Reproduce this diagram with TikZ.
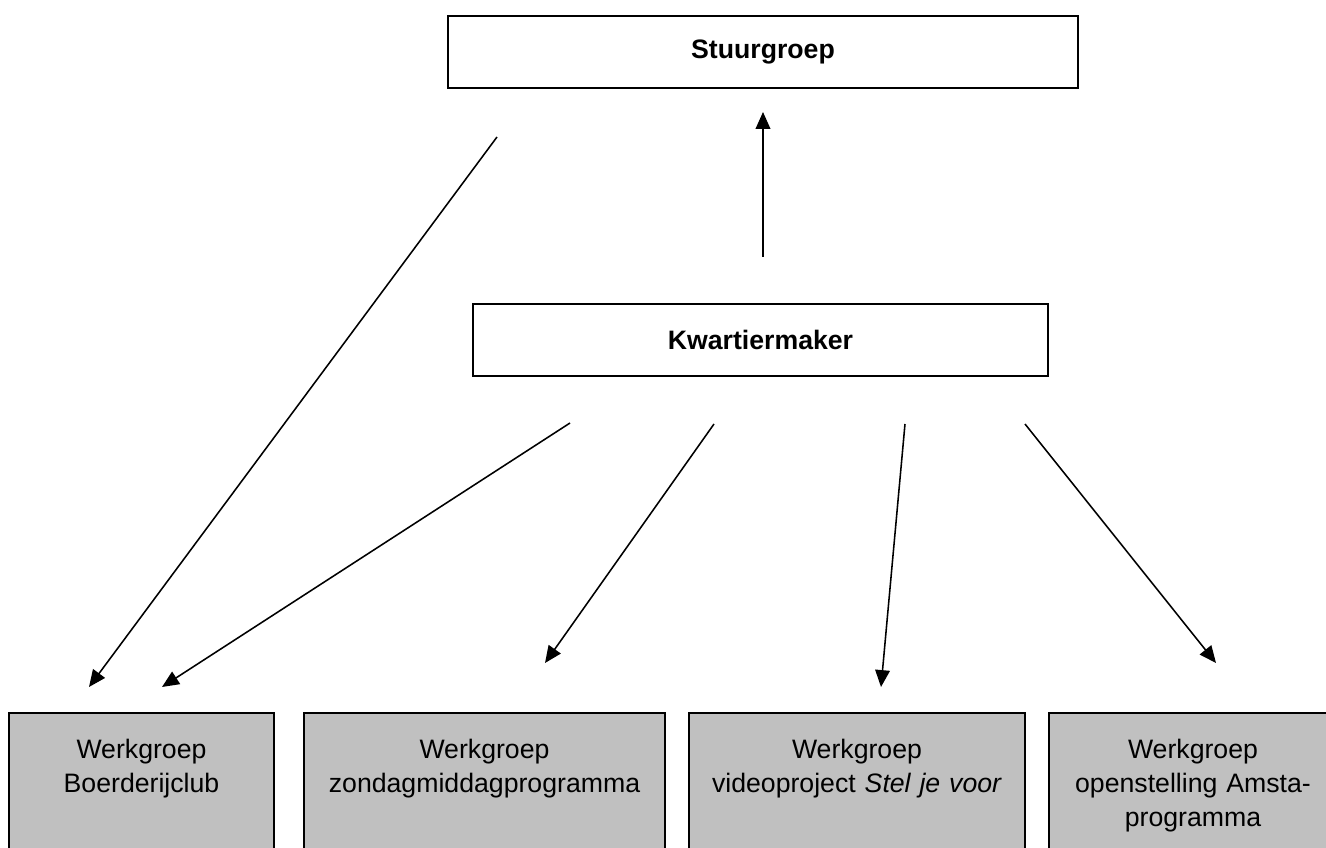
\documentclass[tikz,border=0pt]{standalone}
\usepackage{fontspec}
\setmainfont{Liberation Sans}
\usetikzlibrary{arrows.meta, positioning}
\definecolor{wg-gray}{RGB}{192,192,192}
\newcommand{\pxlen}{0.45pt}

\begin{document}
\begin{tikzpicture}[x=0.45pt, y=-0.45pt,
    every node/.style={font=\fontsize{12}{15.5}\selectfont},
    top-box/.style={draw, line width=0.9pt, minimum height=72*\pxlen,
      inner sep=0pt, font=\fontsize{12}{15.5}\selectfont\bfseries},
    wg-box/.style={draw, line width=0.9pt, fill=wg-gray, anchor=north,
      align=center, inner sep=0pt, text height=45*\pxlen,
      text depth=170*\pxlen},
    link/.style={line width=0.7pt, -{Triangle[length=7.6pt, width=6.6pt]}}]
    \useasboundingbox (0,0) rectangle (1326,848);
    \clip (0,0) rectangle (1326,848);

    \node[top-box, minimum width=630*\pxlen] (stuurgroep) at (763,52)
      {Stuurgroep};
    \node[top-box, minimum width=575*\pxlen] (kwartiermaker) at (760.5,340)
      {Kwartiermaker};

    \node[wg-box, text width=265*\pxlen] (wg-boerderij) at (141.5,712)
      {Werkgroep\\Boerderijclub};
    \node[wg-box, text width=361*\pxlen] (wg-zondag) at (484.5,712)
      {Werkgroep\\zondagmiddagprogramma};
    \node[wg-box, text width=336*\pxlen] (wg-video) at (857,712)
      {Werkgroep\\videoproject \textit{Stel je voor}};
    \node[wg-box, text width=288*\pxlen] (wg-amsta) at (1193,712)
      {Werkgroep\\openstelling Amsta-\\programma};

    \coordinate (stuur-out) at (497,137);
    \coordinate (stuur-in) at (763,112);
    \coordinate (kwartier-out) at (763,257);
    \coordinate (kwartier-out-1) at (570,423);
    \coordinate (kwartier-out-2) at (714,424);
    \coordinate (kwartier-out-3) at (905,424);
    \coordinate (kwartier-out-4) at (1025,424);
    \coordinate (boerderij-in-1) at (89,687);
    \coordinate (boerderij-in-2) at (162,687);
    \coordinate (zondag-in) at (545,663);
    \coordinate (video-in) at (881,687);
    \coordinate (amsta-in) at (1216,663);

    \draw[link] (kwartier-out) -- (stuur-in);
    \draw[link] (stuur-out) -- (boerderij-in-1);
    \draw[link] (kwartier-out-1) -- (boerderij-in-2);
    \draw[link] (kwartier-out-2) -- (zondag-in);
    \draw[link] (kwartier-out-3) -- (video-in);
    \draw[link] (kwartier-out-4) -- (amsta-in);
  \end{tikzpicture}
\end{document}
